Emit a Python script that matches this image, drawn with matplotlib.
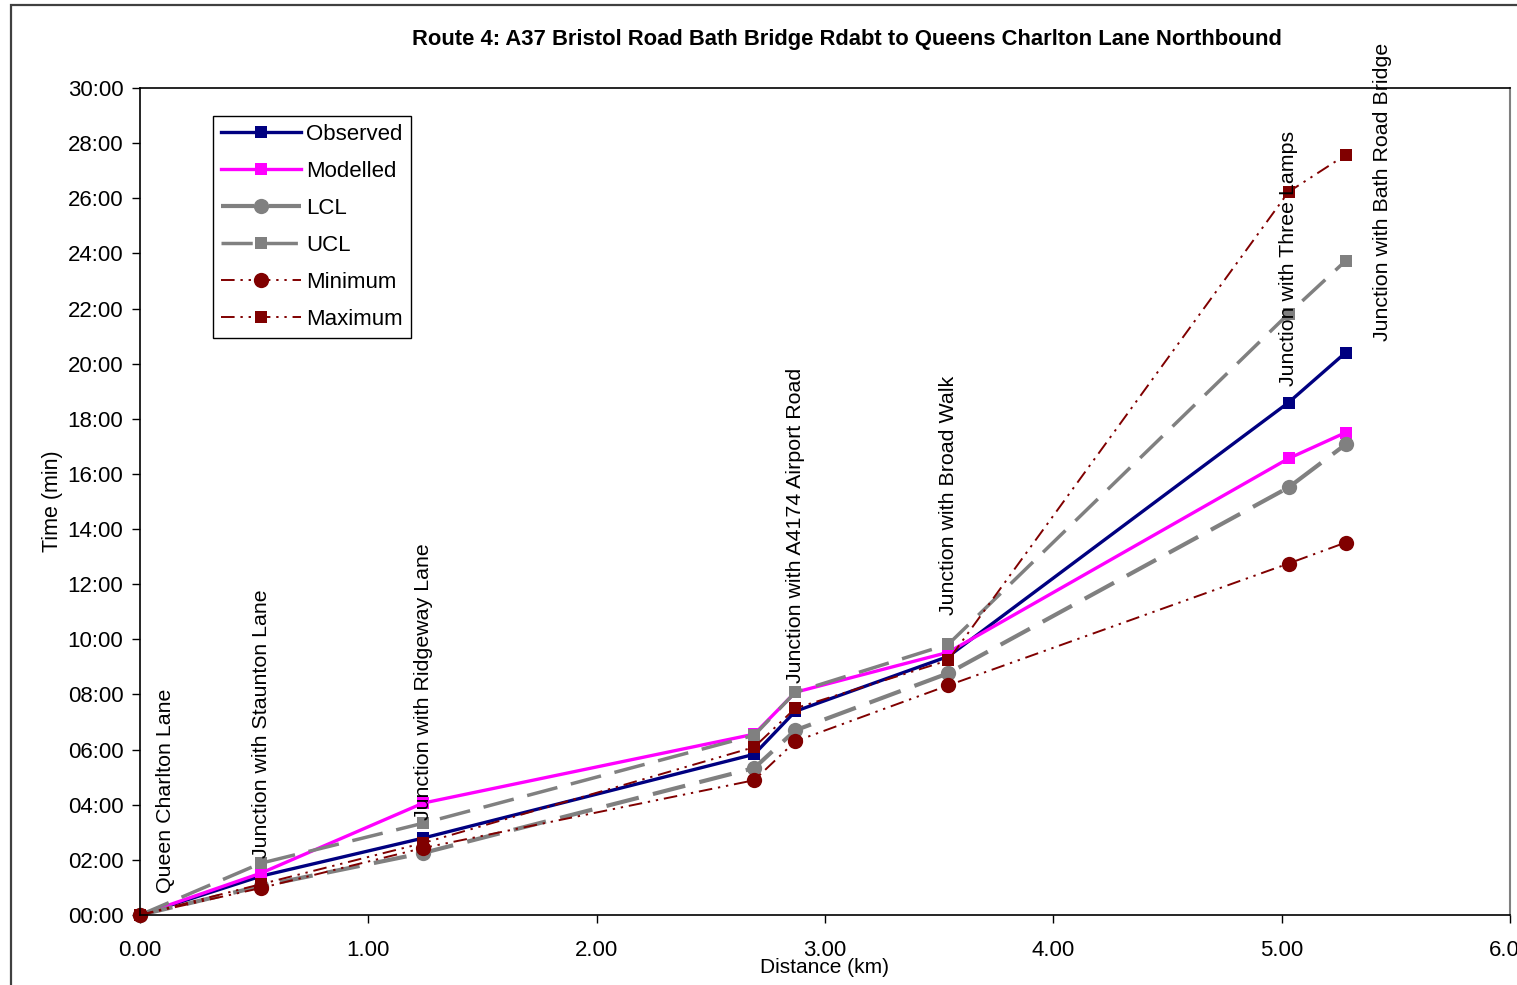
import numpy as np
import matplotlib
matplotlib.use("Agg")
import matplotlib.pyplot as plt
from matplotlib.patches import Rectangle
from matplotlib.ticker import FuncFormatter, MultipleLocator

# distances along route (km) and journey times (minutes)
dist = [0.00, 0.53, 1.24, 2.69, 2.87, 3.54, 5.03, 5.28]
observed = [0.00, 1.41, 2.79, 5.83, 7.39, 9.38, 18.59, 20.40]
modelled = [0.00, 1.52, 4.06, 6.56, 8.08, 9.53, 16.56, 17.50]
lcl = [0.00, 1.05, 2.25, 5.33, 6.70, 8.77, 15.51, 17.07]
ucl = [0.00, 1.88, 3.33, 6.52, 8.08, 9.82, 21.81, 23.73]
minimum = [0.00, 0.98, 2.43, 4.89, 6.30, 8.33, 12.75, 13.51]
maximum = [0.00, 1.12, 2.61, 6.09, 7.50, 9.24, 26.23, 27.57]

# junction labels (x, baseline time)
junctions = ["Queen Charlton Lane", "Junction with Staunton Lane",
             "Junction with Ridgeway Lane", "Junction with A4174 Airport Road",
             "Junction with Broad Walk", "Junction with Three Lamps",
             "Junction with Bath Road Bridge"]
junc_x = [0.11, 0.53, 1.24, 2.87, 3.54, 5.03, 5.44]
junc_y = [0.80, 2.07, 3.44, 8.40, 10.87, 19.20, 20.83]

plt.rcParams.update({"font.family": ["Liberation Sans", "DejaVu Sans"],
                     "font.size": 16})

W, H = 1517, 985
fig = plt.figure(figsize=(W / 100, H / 100), dpi=100)
ax = fig.add_axes([140 / W, 1 - 915 / H, 1370 / W, 827 / H])

# outer chart frame
fig.patches.append(Rectangle((11 / W, -0.05), 1.1, 1 - 5 / H + 0.05,
                             transform=fig.transFigure, fill=False,
                             edgecolor="#404040", lw=1.6, zorder=0))

mm = dict(markeredgewidth=0, clip_on=False)
dd = (7, 3, 1.2, 3, 1.2, 3)
ax.plot(dist, observed, "-s", color="#000080", lw=2.4, ms=8, label="Observed", **mm)
ax.plot(dist, modelled, "-s", color="#FF00FF", lw=2.4, ms=8, label="Modelled", **mm)
ax.plot(dist, lcl, "--o", color="#808080", lw=3, ms=11, dashes=(8, 3.5),
        label="LCL", **mm)
ax.plot(dist, ucl, "--s", color="#808080", lw=2.5, ms=9, dashes=(9, 4),
        label="UCL", **mm)
ax.plot(dist, minimum, "-o", color="#800000", lw=1.4, ms=11, dashes=dd,
        label="Minimum", zorder=2.2, **mm)
ax.plot(dist, maximum, "-s", color="#800000", lw=1.4, ms=9, dashes=dd,
        label="Maximum", zorder=2.1, **mm)

for name, x, y in zip(junctions, junc_x, junc_y):
    ax.text(x, y, name, rotation=90, ha="center", va="bottom", fontsize=15.4,
            clip_on=False)

ax.set_xlim(0, 6)
ax.set_ylim(0, 30)
ax.xaxis.set_major_locator(MultipleLocator(1))
ax.yaxis.set_major_locator(MultipleLocator(2))
ax.xaxis.set_major_formatter(FuncFormatter(lambda v, p: f"{v:.2f}"))
ax.yaxis.set_major_formatter(FuncFormatter(lambda v, p: f"{int(round(v)):02d}:00"))
ax.tick_params(direction="out", length=6, width=1, labelsize=16)
ax.tick_params(axis="x", pad=12)
ax.tick_params(axis="y", pad=6)
for s in ("top", "left", "bottom"):
    ax.spines[s].set_linewidth(1.2)
ax.spines["right"].set_color("#808080")
ax.spines["right"].set_linewidth(1.5)

ax.set_xlabel("Distance (km)", fontsize=15, labelpad=-2)
ax.set_ylabel("Time (min)", fontsize=15.5, labelpad=3)
fig.text(847 / W, 1 - 39 / H, "Route 4: A37 Bristol Road Bath Bridge Rdabt to "
         "Queens Charlton Lane Northbound", ha="center", va="center",
         fontsize=15.8, fontweight="bold")

leg = ax.legend(loc="upper left", bbox_to_anchor=(0.053, 0.966), fontsize=16,
                fancybox=False, framealpha=1, edgecolor="black",
                handlelength=3.6, labelspacing=0.72, borderpad=0.36,
                handletextpad=0.25, borderaxespad=0)
leg.get_frame().set_linewidth(1.0)

fig.savefig("out.png", dpi=100)
